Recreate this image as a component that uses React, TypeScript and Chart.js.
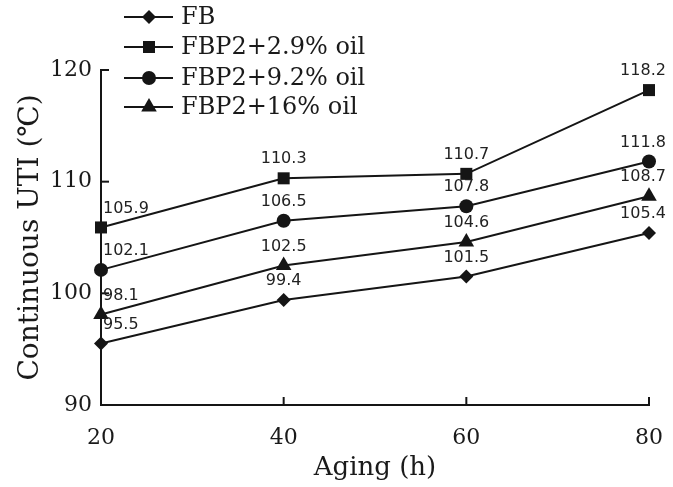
import React, { useEffect, useRef } from "react";
import { Chart, registerables } from "chart.js";

Chart.register(...registerables);

const agingHours = [20, 40, 60, 80];
const seriesLabels = ["FB", "FBP2+2.9% oil", "FBP2+9.2% oil", "FBP2+16% oil"];
const fbValues = [95.5, 99.4, 101.5, 105.4];
const oil29Values = [105.9, 110.3, 110.7, 118.2];
const oil92Values = [102.1, 106.5, 107.8, 111.8];
const oil16Values = [98.1, 102.5, 104.6, 108.7];
const yTickValues = [90, 100, 110, 120];
const xTickValues = [20, 40, 60, 80];

const seriesValues = [fbValues, oil29Values, oil92Values, oil16Values];
const pointStyles = ["rectRot", "rect", "circle", "triangle"];
const pointRadii = [7, 8.5, 7, 9];

const INK = "#151515";
const SERIF = "'DejaVu Serif', serif";
const SANS = "'DejaVu Sans', sans-serif";

function drawMarker(ctx: CanvasRenderingContext2D, style: string, x: number, y: number, r: number) {
  ctx.beginPath();
  if (style === "rect") {
    const s = Math.SQRT1_2 * r;
    ctx.rect(x - s, y - s, 2 * s, 2 * s);
  } else if (style === "rectRot") {
    ctx.moveTo(x - r, y);
    ctx.lineTo(x, y - r);
    ctx.lineTo(x + r, y);
    ctx.lineTo(x, y + r);
    ctx.closePath();
  } else if (style === "circle") {
    ctx.arc(x, y, r, 0, Math.PI * 2);
  } else if (style === "triangle") {
    let rad = 0;
    ctx.moveTo(x + Math.sin(rad) * r, y - Math.cos(rad) * r);
    rad += (2 * Math.PI) / 3;
    ctx.lineTo(x + Math.sin(rad) * r, y - Math.cos(rad) * r);
    rad += (2 * Math.PI) / 3;
    ctx.lineTo(x + Math.sin(rad) * r, y - Math.cos(rad) * r);
    ctx.closePath();
  }
  ctx.fill();
}

const extrasPlugin = {
  id: "extras",
  afterDraw(chart: any) {
    const ctx: CanvasRenderingContext2D = chart.ctx;
    const { left, bottom } = chart.chartArea;
    const xs = chart.scales.x;
    const ys = chart.scales.y;
    ctx.save();
    // inward ticks
    ctx.strokeStyle = INK;
    ctx.lineWidth = 2;
    yTickValues.forEach((v) => {
      const py = ys.getPixelForValue(v);
      ctx.beginPath();
      ctx.moveTo(left, py);
      ctx.lineTo(left + 8, py);
      ctx.stroke();
    });
    xTickValues.forEach((v) => {
      const px = xs.getPixelForValue(v);
      ctx.beginPath();
      ctx.moveTo(px, bottom);
      ctx.lineTo(px, bottom - 8);
      ctx.stroke();
    });

    // data labels
    ctx.fillStyle = "#222";
    ctx.font = `16px ${SANS}`;
    ctx.textBaseline = "middle";
    chart.data.datasets.forEach((ds: any, di: number) => {
      const meta = chart.getDatasetMeta(di);
      meta.data.forEach((pt: any, i: number) => {
        const val = ds.data[i].y;
        const txt = val.toFixed(1);
        let x = pt.x;
        if (i === 0) {
          ctx.textAlign = "left";
          x = pt.x + 2;
        } else if (i === meta.data.length - 1) {
          ctx.textAlign = "center";
          x = pt.x - 6;
        } else {
          ctx.textAlign = "center";
        }
        ctx.fillText(txt, x, pt.y - 19);
      });
    });

    // legend
    const rowY = [17, 47, 78, 107];
    ctx.font = `24px ${SERIF}`;
    ctx.textAlign = "left";
    ctx.textBaseline = "middle";
    chart.data.datasets.forEach((ds: any, di: number) => {
      const y = rowY[di];
      ctx.strokeStyle = INK;
      ctx.lineWidth = 2;
      ctx.beginPath();
      ctx.moveTo(124, y);
      ctx.lineTo(173, y);
      ctx.stroke();
      ctx.fillStyle = INK;
      drawMarker(ctx, pointStyles[di], 149, y, pointRadii[di]);
      ctx.fillStyle = "#1a1a1a";
      ctx.fillText(ds.label, 181, y + 1);
    });
    ctx.restore();
  },
};

export default function App() {
  const canvasRef = useRef<HTMLCanvasElement>(null);

  useEffect(() => {
    document.body.style.margin = "0";
    const canvas = canvasRef.current;
    if (!canvas) return;
    const datasets = seriesLabels.map((label, si) => ({
      label,
      data: agingHours.map((h, i) => ({ x: h, y: seriesValues[si][i] })),
      borderColor: INK,
      backgroundColor: INK,
      borderWidth: 2,
      pointStyle: pointStyles[si],
      pointRadius: pointRadii[si],
      pointBorderWidth: 0,
      pointBackgroundColor: INK,
      tension: 0,
      clip: false as any,
    }));
    const chart = new Chart(canvas, {
      type: "line",
      data: { datasets },
      options: {
        animation: false,
        responsive: false,
        maintainAspectRatio: false,
        layout: { padding: { top: 70, right: 24, left: 0, bottom: 0 } },
        plugins: { legend: { display: false }, tooltip: { enabled: false } },
        scales: {
          x: {
            type: "linear",
            min: 20,
            max: 80,
            afterFit: (s: any) => {
              s.height = 82;
              s.paddingLeft = 0;
              s.paddingRight = 0;
            },
            afterBuildTicks: (s: any) => {
              s.ticks = xTickValues.map((v) => ({ value: v }));
            },
            grid: { display: false, drawTicks: false },
            border: { display: true, color: INK, width: 2 },
            ticks: { color: "#1a1a1a", font: { family: SERIF, size: 22 }, padding: 20, maxRotation: 0 },
            title: {
              display: true,
              text: "Aging (h)",
              color: "#1a1a1a",
              font: { family: SERIF, size: 26 },
              padding: { top: 0, bottom: 3 },
            },
          },
          y: {
            type: "linear",
            min: 90,
            max: 120,
            afterFit: (s: any) => {
              s.width = 101;
              s.paddingTop = 0;
              s.paddingBottom = 0;
            },
            afterBuildTicks: (s: any) => {
              s.ticks = yTickValues.map((v) => ({ value: v }));
            },
            grid: { display: false, drawTicks: false },
            border: { display: true, color: INK, width: 2 },
            ticks: { color: "#1a1a1a", font: { family: SERIF, size: 22 }, padding: 9 },
            title: {
              display: true,
              text: "Continuous UTI (℃)",
              color: "#1a1a1a",
              font: { family: SERIF, size: 28 },
              padding: { top: 14, bottom: 0 },
            },
          },
        },
      },
      plugins: [extrasPlugin],
    });
    return () => chart.destroy();
  }, []);

  return (
    <div style={{ position: "absolute", left: 0, top: 0, width: 673, height: 487, background: "#fff" }}>
      <canvas ref={canvasRef} width={673} height={487} style={{ width: 673, height: 487 }} />
    </div>
  );
}
